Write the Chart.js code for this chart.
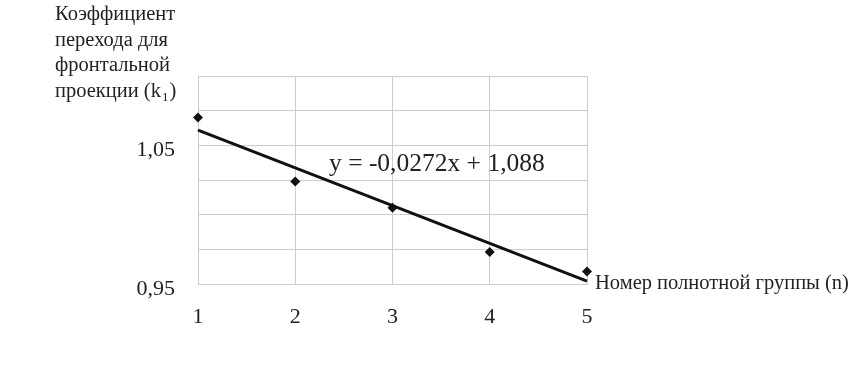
<!DOCTYPE html>
<html>
<head>
<meta charset="utf-8">
<script src="https://cdn.jsdelivr.net/npm/chart.js@4.4.0/dist/chart.umd.min.js"></script>
<style>
  html, body { margin: 0; padding: 0; background: #fff; }
  #wrap { width: 868px; height: 372px; }
</style>
</head>
<body>
<div id="wrap"><canvas id="chart" width="868" height="372"></canvas></div>
<script>
// group numbers and measured coefficients
const groups = [1, 2, 3, 4, 5];
const k1Values = [1.070, 1.024, 1.005, 0.973, 0.959];
// trend line end points
const trendX = [1, 5];
const trendY = [1.061, 0.952];
const yLabelTicks = [0.95, 1.05];

const yTitleLines = ['Коэффициент', 'перехода для', 'фронтальной', 'проекции (k'];
const equationText = 'y = -0,0272x + 1,088';
const xTitle = 'Номер полнотной группы (n)';

const SERIF = '"Liberation Serif", "DejaVu Serif", serif';
const gridColor = '#cccccc';

const textPlugin = {
  id: 'texts',
  afterDraw(chart) {
    const ctx = chart.ctx;
    ctx.save();
    ctx.fillStyle = '#222';
    ctx.textBaseline = 'alphabetic';
    ctx.textAlign = 'left';
    ctx.font = '20.5px ' + SERIF;
    yTitleLines.forEach((line, i) => {
      ctx.fillText(line, 55, 20 + i * 25.6);
    });
    // subscript and closing bracket on last line
    const last = yTitleLines[yTitleLines.length - 1];
    let x = 55 + ctx.measureText(last).width;
    ctx.font = '13px ' + SERIF;
    ctx.fillText('1', x + 1, 101);
    x += 1 + ctx.measureText('1').width + 1;
    ctx.font = '20.5px ' + SERIF;
    ctx.fillText(')', x, 97);

    ctx.font = '25.5px ' + SERIF;
    ctx.fillText(equationText, 329, 171);

    ctx.font = '20.5px ' + SERIF;
    ctx.fillText(xTitle, 595, 289);
    ctx.restore();
  }
};

new Chart(document.getElementById('chart').getContext('2d'), {
  type: 'scatter',
  data: {
    datasets: [
      {
        label: 'k1',
        data: groups.map((g, i) => ({ x: g, y: k1Values[i] })),
        pointStyle: 'rectRot',
        pointRadius: 5,
        backgroundColor: '#111',
        borderColor: '#111',
        borderWidth: 0,
        showLine: false,
        clip: false,
      },
      {
        label: 'trend',
        data: trendX.map((x, i) => ({ x, y: trendY[i] })),
        showLine: true,
        borderColor: '#111',
        borderWidth: 3,
        pointRadius: 0,
        clip: false,
      },
    ]
  },
  options: {
    responsive: false,
    animation: false,
    devicePixelRatio: 1,
    layout: { padding: { left: 0, right: 281, top: 76, bottom: 0 } },
    plugins: { legend: { display: false }, tooltip: { enabled: false } },
    scales: {
      x: {
        type: 'linear', min: 1, max: 5,
        afterFit: (s) => { s.height = 88; },
        grid: { color: gridColor, drawTicks: false },
        border: { color: gridColor },
        ticks: {
          stepSize: 1, padding: 20, color: '#222',
          font: { family: SERIF, size: 22 },
        },
      },
      y: {
        type: 'linear', min: 0.95, max: 1.1,
        afterFit: (s) => { s.width = 198; },
        grid: { color: gridColor, drawTicks: false },
        border: { color: gridColor },
        ticks: {
          stepSize: 0.025, padding: 23, labelOffset: 5, color: '#222',
          font: { family: SERIF, size: 22 },
          callback: (v) => yLabelTicks.some(t => Math.abs(t - v) < 1e-6) ? v.toFixed(2).replace('.', ',') : '',
        },
      },
    },
  },
  plugins: [textPlugin],
});
</script>
</body>
</html>
